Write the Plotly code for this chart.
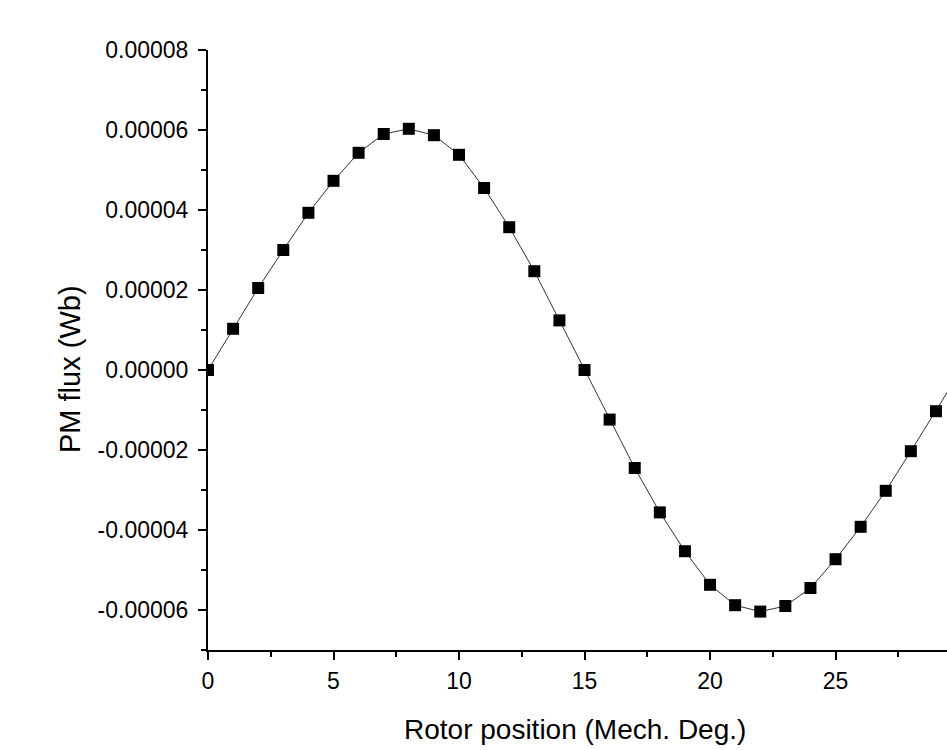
import plotly.graph_objects as go

rotor_pos = list(range(0, 31))
pm_flux = [0.0, 1.03e-5, 2.05e-5, 3.0e-5, 3.93e-5, 4.73e-5, 5.43e-5, 5.9e-5, 6.03e-5, 5.87e-5,
           5.38e-5, 4.55e-5, 3.57e-5, 2.47e-5, 1.24e-5, 0.0, -1.24e-5, -2.45e-5, -3.56e-5, -4.53e-5,
           -5.37e-5, -5.88e-5, -6.04e-5, -5.9e-5, -5.45e-5, -4.73e-5, -3.92e-5, -3.02e-5, -2.03e-5, -1.03e-5,
           0.0]

y_tickvals = [-6e-5, -4e-5, -2e-5, 0.0, 2e-5, 4e-5, 6e-5, 8e-5]
y_ticktext = ["-0.00006", "-0.00004", "-0.00002", "0.00000", "0.00002", "0.00004", "0.00006", "0.00008"]
x_tickvals = [0, 5, 10, 15, 20, 25]
x_ticktext = ["0", "5", "10", "15", "20", "25"]
x_title = "Rotor position (Mech. Deg.)"
y_title = "PM flux (Wb)"

FONT = "Liberation Sans, Arial, sans-serif"

fig = go.Figure()
fig.add_trace(go.Scatter(
    x=rotor_pos, y=pm_flux, mode="lines+markers",
    line=dict(color="#333333", width=1),
    marker=dict(symbol="square", size=12, color="black"),
    showlegend=False,
))

fig.update_layout(
    width=947, height=750,
    margin=dict(l=208, r=0, t=50, b=100),
    paper_bgcolor="white", plot_bgcolor="white",
    font=dict(family=FONT, color="black"),
    annotations=[
        dict(text=x_title, xref="paper", yref="paper", x=(575 - 208) / 739, y=(650 - 729) / 600,
             xanchor="center", yanchor="middle", showarrow=False, font=dict(size=28, family=FONT)),
        dict(text=y_title, xref="paper", yref="paper", x=(70 - 208) / 739, y=(650 - 369) / 600,
             xanchor="center", yanchor="middle", textangle=-90, showarrow=False, font=dict(size=29, family=FONT)),
    ],
)
fig.update_xaxes(
    range=[0, 29.44], showgrid=False, zeroline=False,
    showline=True, linewidth=2, linecolor="black",
    ticks="outside", ticklen=8, tickwidth=2, tickcolor="black",
    tickmode="array", tickvals=x_tickvals, ticktext=x_ticktext,
    tickfont=dict(size=23, family=FONT), ticklabelstandoff=1,
    minor=dict(ticks="outside", ticklen=5, tickwidth=2, tickcolor="black", tickmode="linear", tick0=0, dtick=2.5),
    automargin=False,
)
fig.update_yaxes(
    range=[-7e-5, 8e-5], showgrid=False, zeroline=False,
    showline=True, linewidth=2, linecolor="black",
    ticks="outside", ticklen=8, tickwidth=2, tickcolor="black",
    tickmode="array", tickvals=y_tickvals, ticktext=y_ticktext,
    tickfont=dict(size=23, family=FONT), ticklabelstandoff=5,
    minor=dict(ticks="outside", ticklen=5, tickwidth=2, tickcolor="black", tickmode="linear", tick0=0, dtick=1e-5),
    automargin=False,
)

fig.write_html("out.html")
